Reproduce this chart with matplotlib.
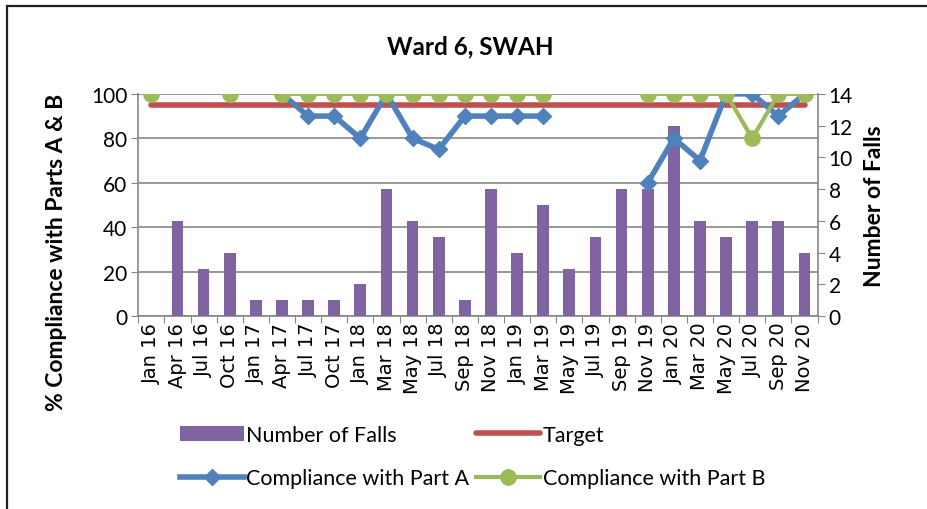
import numpy as np
import matplotlib.pyplot as plt
from matplotlib.patches import Rectangle

months = ['Jan 16', 'Apr 16', 'Jul 16', 'Oct 16', 'Jan 17', 'Apr 17', 'Jul 17',
          'Oct 17', 'Jan 18', 'Mar 18', 'May 18', 'Jul 18', 'Sep 18', 'Nov 18',
          'Jan 19', 'Mar 19', 'May 19', 'Jul 19', 'Sep 19', 'Nov 19', 'Jan 20',
          'Mar 20', 'May 20', 'Jul 20', 'Sep 20', 'Nov 20']
falls = [0, 6, 3, 4, 1, 1, 1, 1, 2, 8, 6, 5, 1, 8, 4, 7, 3, 5, 8, 8, 12, 6, 5, 6, 6, 4]
part_a = [None, None, None, None, None, 100, 90, 90, 80, 100, 80, 75, 90, 90,
          90, 90, None, None, None, 60, 80, 70, 100, 100, 90, 100]
part_b = [100, None, None, 100, None, 100, 100, 100, 100, 100, 100, 100, 100, 100,
          100, 100, None, None, None, 100, 100, 100, 100, 80, 100, 100]
target = [95] * len(months)

plt.rcParams['font.family'] = ['Lato', 'DejaVu Sans']
GRID = '#868686'

fig = plt.figure(figsize=(9.28, 5.10), dpi=100)
rect = [0.149, 0.378, 0.732, 0.436]
ax = fig.add_axes(rect)
x = np.arange(len(months))

def as_arr(v):
    return np.array([np.nan if e is None else e for e in v], dtype=float)

# left axis: grid + ticks
ax.set_xlim(-0.5, len(months) - 0.5)
ax.set_ylim(0, 100)
ax.set_yticks(range(0, 101, 20))
ax.yaxis.grid(True, color=GRID, lw=1.2)
ax.set_axisbelow(True)
for s in ['top', 'right']:
    ax.spines[s].set_visible(False)
for s in ['left', 'bottom']:
    ax.spines[s].set_color(GRID)
    ax.spines[s].set_linewidth(1.2)
ax.tick_params(axis='y', length=5, color=GRID, labelsize=15, pad=3)
ax.set_ylabel('% Compliance with Parts A & B', fontsize=16.5, fontweight='bold')
ax.yaxis.set_label_coords(-0.105, 0.29)

# right axis: falls bars
ax2 = ax.twinx()
ax2.bar(x, falls, width=0.45, color='#8064A2', label='Number of Falls', zorder=2)
ax2.set_ylim(0, 14)
ax2.set_yticks(range(0, 15, 2))
ax2.tick_params(axis='y', length=5, color=GRID, labelsize=15, pad=3)
for s in ['top', 'left', 'bottom']:
    ax2.spines[s].set_visible(False)
ax2.spines['right'].set_color(GRID)
ax2.spines['right'].set_linewidth(1.2)
ax2.set_ylabel('Number of Falls', fontsize=16.5, fontweight='bold', labelpad=8)
ax2.patch.set_visible(False)

# lines on top
ax3 = fig.add_axes(rect, sharex=ax, sharey=ax)
ax3.axis('off')
ax3.patch.set_visible(False)
ax3.plot(x, target, color='#C0504D', lw=4, solid_capstyle='round', label='Target')
ax3.plot(x, as_arr(part_a), color='#4F81BD', lw=4, marker='D', ms=8,
         label='Compliance with Part A')
ax3.plot(x, as_arr(part_b), color='#9BBB59', lw=3, marker='o', ms=11,
         label='Compliance with Part B')

# category ticks: marks between categories, labels at centres
ax.set_xticks(np.arange(-0.5, len(months)))
ax.set_xticklabels([])
ax.set_xticks(x, minor=True)
ax.set_xticklabels(months, minor=True, rotation=90)
ax.tick_params(axis='x', which='major', length=5, color=GRID, direction='out')
ax.tick_params(axis='x', which='minor', length=0, pad=4, labelsize=14,
               labelfontfamily='DejaVu Sans')
ax.set_xlim(-0.5, len(months) - 0.5)

fig.suptitle('Ward 6, SWAH', x=0.507, y=0.93, fontsize=17.5, fontweight='bold')

h2, l2 = ax2.get_legend_handles_labels()
h3, l3 = ax3.get_legend_handles_labels()
handles = [h2[0], h3[1], h3[0], h3[2]]
labels = [l2[0], l3[1], l3[0], l3[2]]
fig.legend(handles, labels, loc='center', bbox_to_anchor=(0.509, 0.103), ncol=2,
           frameon=False, prop={'size': 15.5}, handlelength=3.0,
           handletextpad=0.1, columnspacing=0.3, labelspacing=1.1)

fig.add_artist(Rectangle((0.008, -0.02), 1.1, 1.006, transform=fig.transFigure,
                         fill=False, edgecolor='#202020', lw=1.6))

fig.savefig('out.png', dpi=100)
